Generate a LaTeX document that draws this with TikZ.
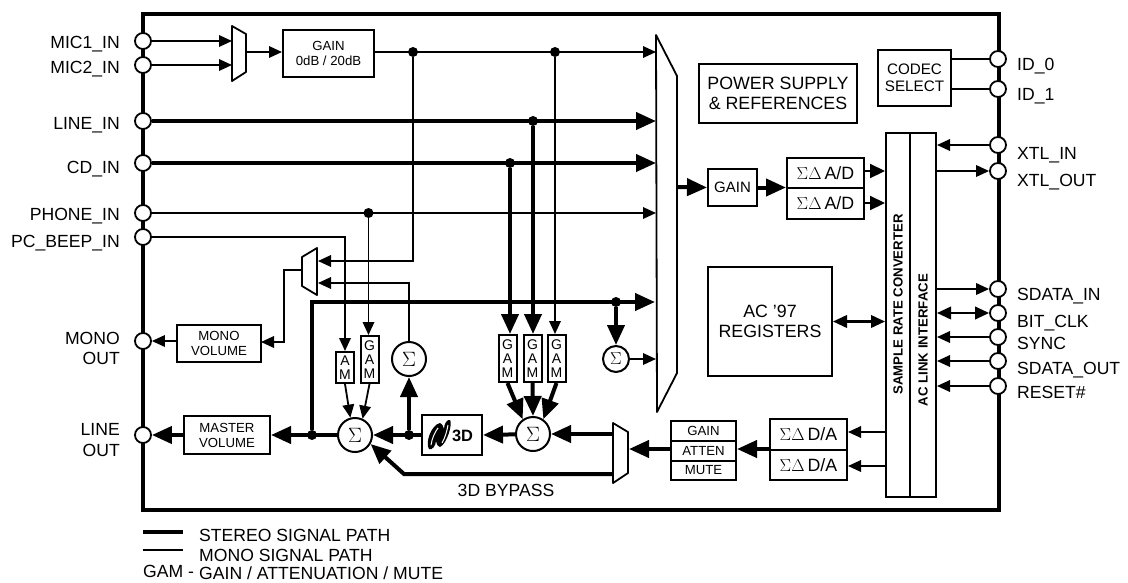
\documentclass[tikz,border=0pt]{standalone}
\usepackage{fontspec}
\setmainfont{Liberation Sans}
\usetikzlibrary{arrows.meta}
\tikzset{
	mono/.style={line width=1.8pt},
	stereo/.style={line width=4pt},
	monoarrow/.style={mono,-{Triangle[length=13pt,width=11.5pt]}},
	stereoarrow/.style={stereo,-{Triangle[length=20pt,width=17pt]}},
	midarrow/.style={line width=2.2pt,-{Triangle[length=15pt,width=14pt]}},
	monodouble/.style={line width=2.2pt,{Triangle[length=14pt,width=12.5pt]}-{Triangle[length=14pt,width=12.5pt]}},
	chipframe/.style={draw,line width=4pt,inner sep=0pt},
	iopin/.style={circle,draw,fill=white,line width=1.8pt,minimum size=16pt,inner sep=0pt},
	jointdot/.style={circle,fill=black,minimum size=10pt,inner sep=0pt},
	blockbox/.style={draw,fill=white,line width=2pt,inner sep=0pt,align=center,font=\fontsize{13.2}{15}\selectfont},
	bigbox/.style={blockbox,font=\fontsize{17.8}{20.5}\selectfont},
	gambox/.style={blockbox,minimum width=18pt,font=\fontsize{14}{14}\selectfont},
	sumnode/.style={circle,draw,fill=white,line width=2pt,minimum size=34pt,inner sep=0pt,font=\fontsize{22}{22}\selectfont},
	smallsum/.style={sumnode,minimum size=26pt,font=\fontsize{17}{17}\selectfont},
	muxline/.style={draw,fill=white,line width=1.8pt,line join=round},
	leftlabel/.style={anchor=base east,inner sep=0pt,font=\fontsize{17.6}{20.5}\selectfont},
	rightlabel/.style={anchor=base west,inner sep=0pt,font=\fontsize{17.6}{20.5}\selectfont},
	plainlabel/.style={inner sep=0pt,font=\fontsize{17.6}{20.5}\selectfont}
}
\begin{document}
\begin{tikzpicture}[x=1pt,y=-1pt]
\useasboundingbox (0,0) rectangle (1128,582);
\node[chipframe,minimum width=856pt,minimum height=496pt] (chip) at (571,262) {};

\coordinate (micmuxa) at (232,26);
\coordinate (micmuxb) at (246,34);
\coordinate (micmuxc) at (246,72);
\coordinate (micmuxd) at (232,81);
\coordinate (micmuxout) at (246,52);
\coordinate (lmuxa) at (302,257);
\coordinate (lmuxb) at (317,248);
\coordinate (lmuxc) at (317,295);
\coordinate (lmuxd) at (302,286);
\coordinate (lmuxina) at (318,261);
\coordinate (lmuxinb) at (318,283);
\coordinate (lmuxout) at (302,270);
\coordinate (lmuxbend) at (284,270);
\coordinate (monovolin) at (261,342);
\coordinate (bigmuxa) at (656,35);
\coordinate (bigmuxb) at (677,76);
\coordinate (bigmuxc) at (677,373);
\coordinate (bigmuxd) at (657,412);
\coordinate (bigmuxout) at (677,187);
\coordinate (stereoend) at (655,302);
\coordinate (dacmuxa) at (613,423);
\coordinate (dacmuxb) at (628,432);
\coordinate (dacmuxc) at (628,473);
\coordinate (dacmuxd) at (613,483);
\coordinate (dacmuxin) at (629,449);
\coordinate (dacmuxtop) at (613,434);
\coordinate (dacmuxlow) at (613,474);
\coordinate (bypassbend) at (404,474);
\coordinate (adaout) at (864,171);
\coordinate (adbout) at (864,203);
\coordinate (daaout) at (848,432);
\coordinate (dabout) at (848,466);
\coordinate (dacjoin) at (770,449);
\coordinate (legendaa) at (143,532);
\coordinate (legendab) at (183,532);
\coordinate (legendba) at (143,550);
\coordinate (legendbb) at (183,550);

\node[blockbox,minimum width=91pt,minimum height=47pt] (micgain) at (328.5,53.5) {GAIN\\0dB / 20dB};
\node[blockbox,minimum width=84pt,minimum height=37pt] (monovol) at (219,343.5) {MONO\\VOLUME};
\node[blockbox,minimum width=86pt,minimum height=38pt] (mastervol) at (227,435) {MASTER\\VOLUME};
\node[blockbox,minimum width=60pt,minimum height=40pt] (threed) at (452,435) {};
\node[gambox,minimum height=31pt] (boxam) at (345,367.5) {A\\M};
\node[gambox,minimum height=47pt] (boxgama) at (369.5,359.5) {G\\A\\M};
\node[gambox,minimum height=47pt] (boxgamb) at (507.5,358.5) {G\\A\\M};
\node[gambox,minimum height=47pt] (boxgamc) at (532.5,358.5) {G\\A\\M};
\node[gambox,minimum height=47pt] (boxgamd) at (556.5,358.5) {G\\A\\M};
\node[blockbox,minimum width=65pt,minimum height=20pt] (boxgain) at (703.5,431) {GAIN};
\node[blockbox,minimum width=65pt,minimum height=20pt] (boxatten) at (703.5,451) {ATTEN};
\node[blockbox,minimum width=65pt,minimum height=19pt] (boxmute) at (703.5,470.5) {MUTE};
\node[bigbox,minimum width=77pt,minimum height=30.5pt] (daa) at (808.5,434.5) {$\Sigma\Delta$\,D/A};
\node[bigbox,minimum width=77pt,minimum height=30.5pt] (dab) at (808.5,465) {$\Sigma\Delta$\,D/A};
\node[bigbox,minimum width=77pt,minimum height=30.5pt] (ada) at (825.5,173) {$\Sigma\Delta$\,A/D};
\node[bigbox,minimum width=77pt,minimum height=30.5pt] (adb) at (825.5,203.5) {$\Sigma\Delta$\,A/D};
\node[blockbox,minimum width=49pt,minimum height=37pt,font=\fontsize{15}{15}\selectfont] (adcgain) at (732.5,187.5) {GAIN};
\node[bigbox,minimum width=158pt,minimum height=59pt] (power) at (778,93.5) {POWER SUPPLY\\\& REFERENCES};
\node[blockbox,minimum width=73pt,minimum height=56pt,font=\fontsize{15.2}{17.5}\selectfont] (codec) at (914.5,78) {CODEC\\SELECT};
\node[bigbox,minimum width=124pt,minimum height=109pt] (registers) at (770,321.5) {AC '97\\REGISTERS};
\node[blockbox,minimum width=24pt,minimum height=364pt] (src) at (898,315) {};
\node[blockbox,minimum width=26pt,minimum height=364pt] (aclink) at (923,315) {};
\node[rotate=90,font=\bfseries\fontsize{13.2}{15}\selectfont] (srctext) at (898,304.5) {SAMPLE RATE CONVERTER};
\node[rotate=90,font=\bfseries\fontsize{13.2}{15}\selectfont] (aclinktext) at (923,340) {AC LINK INTERFACE};

\node[sumnode] (sumleft) at (355,435) {$\Sigma$};
\node[sumnode] (summid) at (533,434) {$\Sigma$};
\node[sumnode] (sumtop) at (409,359) {$\Sigma$};
\node[smallsum] (sumright) at (616,359) {$\Sigma$};

\node[jointdot] (micdot) at (413,52) {};
\node[jointdot] (micdotb) at (555,52) {};
\node[jointdot] (linedot) at (533,121) {};
\node[jointdot] (cddot) at (510,163) {};
\node[jointdot] (phonedot) at (368.5,213) {};
\node[jointdot] (stereodot) at (312,435) {};
\node[jointdot] (threedot) at (409,435) {};
\node[jointdot] (stereodotb) at (616,302) {};

\node[iopin] (mica) at (143,41) {};
\node[iopin] (micb) at (143,65) {};
\node[iopin] (linein) at (143,121) {};
\node[iopin] (cdin) at (143,163) {};
\node[iopin] (phonein) at (143,213) {};
\node[iopin] (pcbeep) at (143,237) {};
\node[iopin] (monoout) at (143,341) {};
\node[iopin] (lineout) at (143,435) {};
\node[iopin] (ida) at (998,59) {};
\node[iopin] (idb) at (998,89) {};
\node[iopin] (xtlin) at (998,145) {};
\node[iopin] (xtlout) at (998,171) {};
\node[iopin] (sdatain) at (998,289) {};
\node[iopin] (bitclk) at (998,313) {};
\node[iopin] (syncpin) at (998,337) {};
\node[iopin] (sdataout) at (998,361) {};
\node[iopin] (resetpin) at (998,386) {};

\draw[monoarrow] (mica) -- (mica -| micmuxa);
\draw[monoarrow] (micb) -- (micb -| micmuxa);
\draw[muxline] (micmuxa) -- (micmuxb) -- (micmuxc) -- (micmuxd) -- cycle;
\draw[monoarrow] (micmuxout) -- (micmuxout -| micgain.west);
\draw[monoarrow] (micgain.east |- micdot) -- (micdot -| bigmuxa);
\draw[monoarrow] (micdot) |- (lmuxina);
\draw[monoarrow] (micdotb) -- (micdotb |- boxgamd.north);
\draw[monoarrow] (phonein) -- (phonein -| bigmuxa);
\draw[monoarrow] (pcbeep) -| (boxam.north);
\draw[monoarrow] (phonedot) -- (phonedot |- boxgama.north);
\draw[monoarrow] (sumtop) |- (lmuxinb);
\draw[muxline] (lmuxa) -- (lmuxb) -- (lmuxc) -- (lmuxd) -- cycle;
\draw[monoarrow] (lmuxout) -- (lmuxbend) |- (monovolin);
\draw[monoarrow] (monovol.west |- monoout) -- (monoout);
\draw[monoarrow] (boxam.south) -- (sumleft.105);
\draw[monoarrow] (boxgama.south) -- (sumleft.65);
\draw[monoarrow] (sumright) -- (sumright -| bigmuxa);
\draw[midarrow] (adaout) -- (adaout -| src.west);
\draw[midarrow] (adbout) -- (adbout -| src.west);
\draw[monoarrow] (daaout -| src.west) -- (daaout);
\draw[monoarrow] (dabout -| src.west) -- (dabout);
\draw[monodouble] (registers.east) -- (registers.east -| src.west);
\draw[mono] (ida -| codec.east) -- (ida);
\draw[mono] (idb -| codec.east) -- (idb);
\draw[monoarrow] (xtlin) -- (xtlin -| aclink.east);
\draw[monoarrow] (xtlout -| aclink.east) -- (xtlout);
\draw[monoarrow] (sdatain -| aclink.east) -- (sdatain);
\draw[monodouble] (bitclk -| aclink.east) -- (bitclk);
\draw[monoarrow] (syncpin) -- (syncpin -| aclink.east);
\draw[monoarrow] (sdataout) -- (sdataout -| aclink.east);
\draw[monoarrow] (resetpin) -- (resetpin -| aclink.east);

\draw[stereoarrow] (linein) -- (linein -| bigmuxa);
\draw[stereoarrow] (cdin) -- (cdin -| bigmuxa);
\draw[stereoarrow] (linedot) -- (linedot |- boxgamc.north);
\draw[stereoarrow] (cddot) -- (cddot |- boxgamb.north);
\draw[stereoarrow] (stereodot) |- (stereoend);
\draw[stereoarrow] (stereodotb) -- (sumright);
\draw[stereoarrow] (boxgamb.south) -- (summid.125);
\draw[stereoarrow] (boxgamc.south) -- (summid.north);
\draw[stereoarrow] (boxgamd.south) -- (summid.55);
\draw[stereoarrow] (sumleft) -- (mastervol.east);
\draw[stereoarrow] (mastervol.west) -- (lineout);
\draw[stereoarrow] (threed.west) -- (sumleft);
\draw[stereoarrow] (threedot) -- (sumtop);
\draw[stereoarrow] (summid) -- (threed.east);
\draw[stereoarrow] (dacmuxtop) -- (summid);
\draw[stereoarrow] (dacmuxlow) -- (bypassbend) -- (sumleft.-30);
\draw[stereoarrow] (boxatten.west |- dacmuxin) -- (dacmuxin);
\draw[stereoarrow] (dacjoin) -- (dacjoin -| boxatten.east);
\draw[stereoarrow] (bigmuxout) -- (adcgain.west);
\draw[stereoarrow] (adcgain.east) -- (adcgain.east -| ada.west);
\draw[muxline] (dacmuxa) -- (dacmuxb) -- (dacmuxc) -- (dacmuxd) -- cycle;
\draw[muxline] (bigmuxa) -- (bigmuxb) -- (bigmuxc) -- (bigmuxd) -- cycle;
\draw[stereo] (legendaa) -- (legendab);
\draw[mono] (legendba) -- (legendbb);

\fill (429,449) .. controls (425,443) and (431,425) .. (440,423) .. controls (442,423) and (443,426) .. (444,429) .. controls (444,424) and (447,419) .. (450,420) .. controls (453,423) and (447,444) .. (440,447) .. controls (438,447) and (437,445) .. (436,441) .. controls (436,445) and (432,451) .. (429,449) -- cycle;
\draw[white,line width=1pt] (431,445) .. controls (432,438) and (435,432) .. (438,428);
\draw[white,line width=1pt] (442,443) .. controls (445,438) and (447,431) .. (448,425);
\node[font=\bfseries\fontsize{16.4}{18}\selectfont] (threedtext) at (462.5,436) {3D};

\node[leftlabel] (micalabel) at (120,48) {MIC1\_IN};
\node[leftlabel] (micblabel) at (120,73) {MIC2\_IN};
\node[leftlabel] (linelabel) at (120,129) {LINE\_IN};
\node[leftlabel] (cdlabel) at (120,173) {CD\_IN};
\node[leftlabel] (phonelabel) at (120,220.5) {PHONE\_IN};
\node[leftlabel] (beeplabel) at (120,247) {PC\_BEEP\_IN};
\node[leftlabel] (monolabel) at (120,344) {MONO};
\node[leftlabel] (monooutlabel) at (120,364) {OUT};
\node[leftlabel] (linelabelb) at (120,435) {LINE};
\node[leftlabel] (lineoutlabel) at (120,456) {OUT};
\node[rightlabel] (idalabel) at (1017,70.5) {ID\_0};
\node[rightlabel] (idblabel) at (1017,100) {ID\_1};
\node[rightlabel] (xtlinlabel) at (1017,159) {XTL\_IN};
\node[rightlabel] (xtloutlabel) at (1017,186) {XTL\_OUT};
\node[rightlabel] (sdatainlabel) at (1017,300) {SDATA\_IN};
\node[rightlabel] (bitclklabel) at (1017,327) {BIT\_CLK};
\node[rightlabel] (synclabel) at (1017,349) {SYNC};
\node[rightlabel] (sdataoutlabel) at (1017,374) {SDATA\_OUT};
\node[rightlabel] (resetlabel) at (1017,398) {RESET\#};
\node[plainlabel,anchor=base] (bypasslabel) at (506,496) {3D BYPASS};
\node[rightlabel] (legenda) at (199,541) {STEREO SIGNAL PATH};
\node[rightlabel] (legendb) at (199,561) {MONO SIGNAL PATH};
\node[rightlabel] (legendc) at (143,577) {GAM -};
\node[rightlabel] (legendd) at (199,579.5) {GAIN / ATTENUATION / MUTE};
\end{tikzpicture}
\end{document}
